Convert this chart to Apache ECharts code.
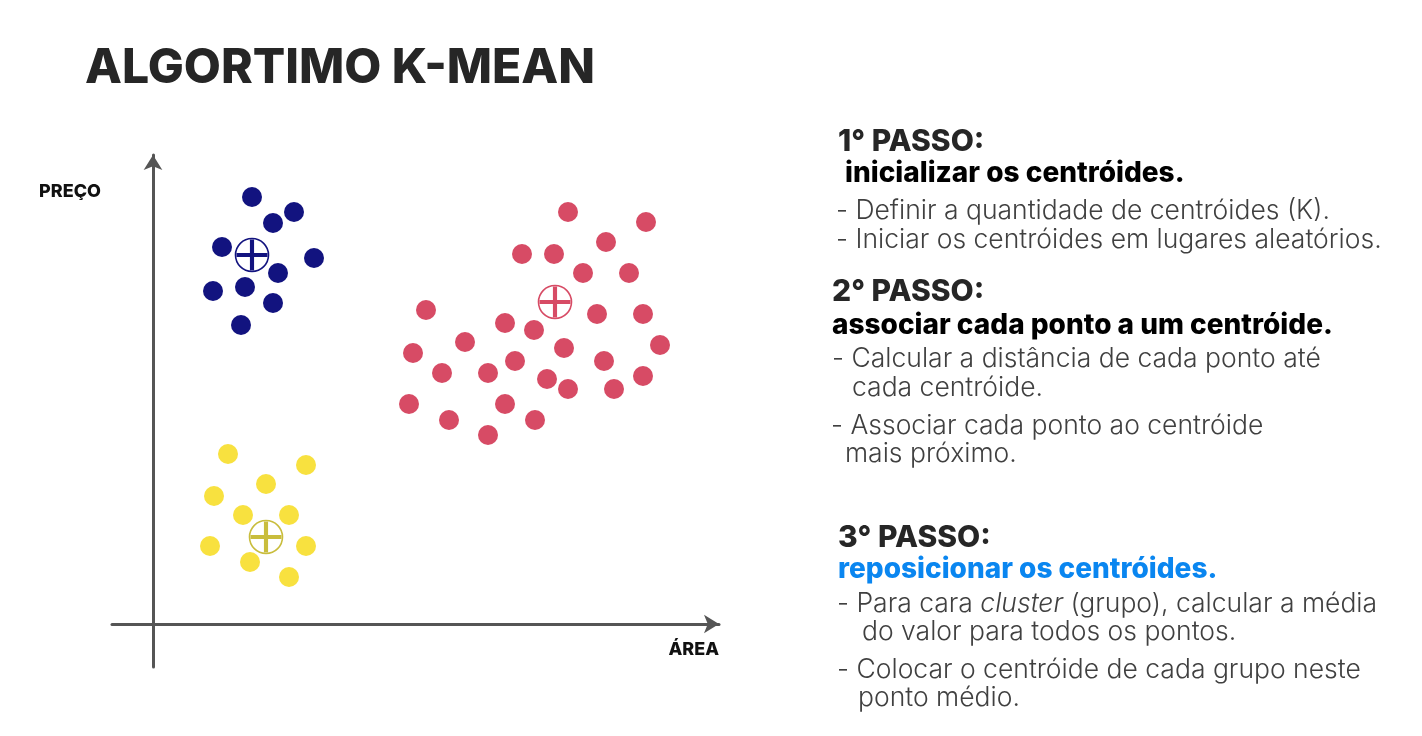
<!DOCTYPE html>
<html>
<head>
<meta charset="utf-8">
<script src="https://cdn.jsdelivr.net/npm/echarts@6/dist/echarts.min.js"></script>
<style>
html,body{margin:0;padding:0;background:#fff;}
#chart{width:1422px;height:736px;}
</style>
</head>
<body>
<div id="chart"></div>
<script>
// Data (arbitrary units: ÁREA on x, PREÇO on y)
const blueCluster = [[99,427],[141,412],[120,401],[69,377],[161,366],[125,351],[60,333],[92,337],[120,321],[88,299]];
const blueCentroid = [[99,369]];
const redCluster = [[415,412],[493,402],[453,382],[369,370],[401,370],[430,351],[476,351],[273,314],[444,310],[490,310],
  [352,301],[381,294],[312,282],[507,279],[260,271],[411,276],[362,263],[451,263],[289,251],[335,251],
  [394,245],[490,248],[415,235],[461,235],[256,220],[352,220],[296,204],[382,204],[335,189]];
const redCentroid = [[402,322]];
const yellowCluster = [[75,170],[153,159],[113,140],[61,128],[90,109],[136,109],[57,78],[153,78],[97,62],[136,47]];
const yellowCentroid = [[113,87]];
const xRange = [-41, 566];
const yRange = [-43, 469];

const titleText = 'ALGORTIMO K-MEAN';
const xName = 'ÁREA';
const yName = 'PREÇO';

const COLORS = {blue:'#12137f', red:'#d74b65', yellow:'#f8e13f', yellowC:'#c9bd3d', axis:'#555555'};
const BOLD = 'Inter, "Noto Sans", sans-serif';
const LIGHT = 'Inter, "Open Sans", sans-serif';

const crossPath = 'path://M-2.2,-16.5L2.2,-16.5L2.2,16.5L-2.2,16.5Z M-16.5,-2.2L16.5,-2.2L16.5,2.2L-16.5,2.2Z';

function dots(name, data, color){
  return {name, type:'scatter', data, symbol:'circle', symbolSize:20, itemStyle:{color, opacity:1}, silent:true, z:3};
}
function centroid(name, data, color){
  return [
    {name:name+'-ring', type:'scatter', data, symbol:'circle', symbolSize:33,
      itemStyle:{color:'#ffffff', borderColor:color, borderWidth:1.6, opacity:1}, silent:true, z:4},
    {name:name+'-cross', type:'scatter', data, symbol:crossPath, symbolSize:31,
      itemStyle:{color, opacity:1}, silent:true, z:5}
  ];
}

function txt(x, y, text, size, weight, color, family, extra){
  return Object.assign({type:'text', x, y, silent:true,
    style:{text, fontSize:size, fontWeight:weight, fill:color, fontFamily:family, textAlign:'left', textVerticalAlign:'middle'}}, extra||{});
}

const H = 30, S = 28, B = 26.5, LW = 300, LC = '#404040';
const graphics = [
  txt(85, 69, titleText, 48, 800, '#262626', BOLD),
  {type:'text', x:101, y:192, silent:true, style:{text:yName, fontSize:18, fontWeight:800, fill:'#111', fontFamily:BOLD, textAlign:'right', textVerticalAlign:'middle'}},
  {type:'text', x:719, y:650, silent:true, style:{text:xName, fontSize:18, fontWeight:800, fill:'#111', fontFamily:BOLD, textAlign:'right', textVerticalAlign:'middle'}},

  txt(838, 142, '1° PASSO:', H, 800, '#262626', BOLD),
  txt(845, 174, 'inicializar os centróides.', S, 800, '#000', BOLD),
  txt(836, 211, '- Definir a quantidade de centróides (K).', B, LW, LC, LIGHT),
  txt(836, 240, '- Iniciar os centróides em lugares aleatórios.', B, LW, LC, LIGHT),

  txt(832, 292, '2° PASSO:', H, 800, '#262626', BOLD),
  txt(832, 326, 'associar cada ponto a um centróide.', S, 800, '#000', BOLD),
  txt(832, 359, '- Calcular a distância de cada ponto até', B, LW, LC, LIGHT),
  txt(852, 388, 'cada centróide.', B, LW, LC, LIGHT),
  txt(831, 426, '- Associar cada ponto ao centróide', B, LW, LC, LIGHT),
  txt(845, 454, 'mais próximo.', B, LW, LC, LIGHT),

  txt(838, 538, '3° PASSO:', H, 800, '#262626', BOLD),
  txt(838, 570, 'reposicionar os centróides.', S, 800, '#0a86f0', BOLD),
  {type:'text', x:837, y:604, silent:true, style:{
    text:'{n|- Para cara }{i|cluster}{n| (grupo), calcular a média}',
    textVerticalAlign:'middle', textAlign:'left',
    rich:{
      n:{fontSize:B, fontWeight:LW, fontFamily:LIGHT, fill:LC, color:LC},
      i:{fontSize:B, fontWeight:LW, fontStyle:'italic', fontFamily:LIGHT, fill:LC, color:LC}
    }}},
  txt(862, 632, 'do valor para todos os pontos.', B, LW, LC, LIGHT),
  txt(837, 670, '- Colocar o centróide de cada grupo neste', B, LW, LC, LIGHT),
  txt(858, 698, 'ponto médio.', B, LW, LC, LIGHT)
];

const axisCommon = {
  axisTick:{show:false}, axisLabel:{show:false}, splitLine:{show:false},
  axisLine:{show:true, onZero:true, symbol:['none','arrow'], symbolSize:[14,15],
    lineStyle:{color:COLORS.axis, width:3}}
};

const chart = echarts.init(document.getElementById('chart'), null, {renderer:'canvas'});
chart.setOption({
  animation:false,
  backgroundColor:'#ffffff',
  grid:{left:112, right:703, top:155, bottom:69},
  xAxis:Object.assign({type:'value', min:xRange[0], max:xRange[1]}, axisCommon),
  yAxis:Object.assign({type:'value', min:yRange[0], max:yRange[1]}, axisCommon),
  series:[
    dots('blue', blueCluster, COLORS.blue),
    dots('red', redCluster, COLORS.red),
    dots('yellow', yellowCluster, COLORS.yellow),
    ...centroid('blueC', blueCentroid, COLORS.blue),
    ...centroid('redC', redCentroid, COLORS.red),
    ...centroid('yellowC', yellowCentroid, COLORS.yellowC)
  ],
  graphic:graphics
});
</script>
</body>
</html>
